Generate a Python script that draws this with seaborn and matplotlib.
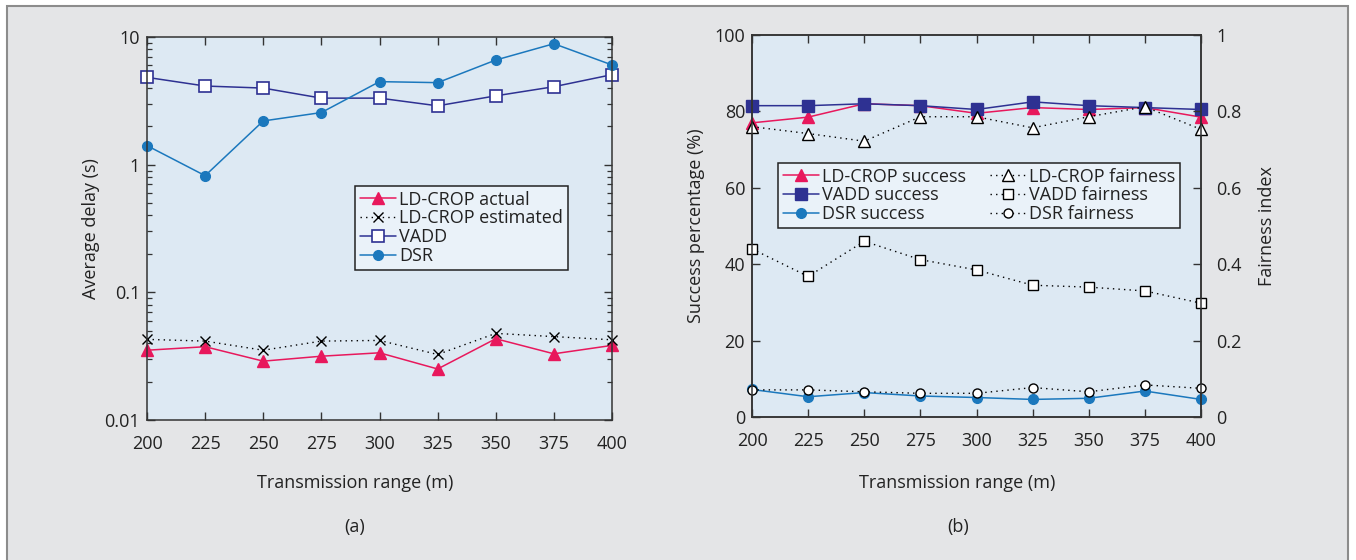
import numpy as np
import matplotlib
matplotlib.use("Agg")
import matplotlib.pyplot as plt
import matplotlib.ticker as mticker
from matplotlib.patches import Rectangle
import seaborn as sns

# ── Data ─────────────────────────────────────────────────────────────
tx_range = [200, 225, 250, 275, 300, 325, 350, 375, 400]

# (a) average delay (s), log scale
delay_ldcrop_actual = [0.0352, 0.0375, 0.0289, 0.0316, 0.0336, 0.0251, 0.0433, 0.0330, 0.0384]
delay_ldcrop_est    = [0.0428, 0.0415, 0.0352, 0.0415, 0.0420, 0.0326, 0.0477, 0.0450, 0.0425]
delay_vadd          = [4.83, 4.13, 3.98, 3.32, 3.32, 2.89, 3.46, 4.08, 5.07]
delay_dsr           = [1.41, 0.82, 2.20, 2.56, 4.47, 4.39, 6.60, 8.86, 6.04]

# (b) success percentage (%) and fairness index
succ_ldcrop = [77.0, 78.5, 82.0, 81.5, 79.5, 81.0, 80.5, 81.0, 78.5]
succ_vadd   = [81.5, 81.5, 82.0, 81.5, 80.5, 82.5, 81.5, 81.0, 80.5]
succ_dsr    = [7.2, 5.3, 6.4, 5.5, 5.1, 4.6, 4.9, 6.8, 4.6]
fair_ldcrop = [0.760, 0.742, 0.722, 0.786, 0.786, 0.757, 0.786, 0.812, 0.753]
fair_vadd   = [0.440, 0.368, 0.460, 0.412, 0.385, 0.345, 0.340, 0.330, 0.298]
fair_dsr    = [0.071, 0.071, 0.066, 0.062, 0.062, 0.077, 0.066, 0.084, 0.075]

# ── Style ────────────────────────────────────────────────────────────
sns.set_theme(style="ticks")
plt.rcParams.update({
    "font.family": ["Open Sans", "DejaVu Sans"],
    "font.size": 13,
    "axes.labelsize": 13,
    "xtick.labelsize": 13,
    "ytick.labelsize": 13,
    "legend.fontsize": 13,
    "axes.edgecolor": "#333333",
    "axes.linewidth": 1.1,
    "text.color": "#222222",
    "axes.labelcolor": "#222222",
    "xtick.color": "#333333",
    "ytick.color": "#333333",
    "xtick.labelcolor": "#222222",
    "ytick.labelcolor": "#222222",
})

RED = "#e8185c"
NAVY = "#2e3192"
BLUE = "#1b78bd"
PANEL_BG = "#dde9f3"
FRAME_BG = "#e4e5e7"
LEGEND_BG = "#eaf2f9"
DOT = (0, (1, 3))

fig = plt.figure(figsize=(13.56, 5.6), dpi=100)
fig.patch.set_facecolor("white")
frame = Rectangle((7 / 1356, -0.02), 1341 / 1356, 1.02 - 6 / 560,
                  transform=fig.transFigure, facecolor=FRAME_BG,
                  edgecolor="#8c8c8c", linewidth=1.5, zorder=-10)
fig.add_artist(frame)

ax1 = fig.add_axes([147 / 1356, 1 - 420 / 560, 465 / 1356, 383 / 560])
ax2 = fig.add_axes([752 / 1356, 1 - 417 / 560, 449 / 1356, 382 / 560])


def series(ax, y, color, marker, ms, ls="-", lw=1.1, mfc=None, mec=None, mew=1.0, label=None):
    sns.lineplot(x=tx_range, y=y, ax=ax, color=color, marker=marker, markersize=ms,
                 linestyle=ls, linewidth=lw,
                 markerfacecolor=mfc if mfc is not None else color,
                 markeredgecolor=mec if mec is not None else color,
                 markeredgewidth=mew, clip_on=False, label=label, legend=False)
    return ax.get_lines()[-1]


def style_axes(ax):
    ax.set_facecolor(PANEL_BG)
    for s in ax.spines.values():
        s.set_visible(True)
    ax.set_xlim(200, 400)
    ax.set_xticks(tx_range)
    ax.tick_params(axis="x", which="both", direction="in", top=True, length=6, width=1, pad=11)
    ax.set_xlabel("Transmission range (m)")
    ax.xaxis.label.set_va("center")


# ── (a) Average delay ────────────────────────────────────────────────
style_axes(ax1)
h_a = [
    series(ax1, delay_ldcrop_actual, RED, "^", 8, label="LD-CROP actual"),
    series(ax1, delay_ldcrop_est, "black", "x", 7, ls=DOT, lw=1.0, label="LD-CROP estimated"),
    series(ax1, delay_vadd, NAVY, "s", 8, mfc="white", mew=1.2, label="VADD"),
    series(ax1, delay_dsr, BLUE, "o", 7, label="DSR"),
]
ax1.set_yscale("log")
ax1.set_ylim(0.01, 10)
ax1.set_yticks([0.01, 0.1, 1, 10])
ax1.set_yticklabels(["0.01", "0.1", "1", "10"])
ax1.yaxis.set_minor_locator(mticker.LogLocator(base=10, subs=np.arange(2, 10)))
ax1.yaxis.set_minor_formatter(mticker.NullFormatter())
ax1.tick_params(axis="y", which="major", direction="in", right=True, length=6, width=1, pad=5)
ax1.tick_params(axis="y", which="minor", direction="in", right=True, length=3.5, width=0.9)
ax1.set_ylabel("Average delay (s)", labelpad=3)
ax1.xaxis.set_label_coords(0.447, -63 / 383)

leg1 = ax1.legend(handles=h_a, loc="upper left", bbox_to_anchor=(208 / 465, 1 - 149 / 383),
                  frameon=True, fancybox=False, framealpha=1, facecolor=LEGEND_BG,
                  edgecolor="#222222", fontsize=13, handlelength=2.0, handletextpad=0.2,
                  labelspacing=0.05, borderpad=0.25, borderaxespad=0)
leg1.get_frame().set_linewidth(1.1)

# ── (b) Success percentage + fairness ────────────────────────────────
style_axes(ax2)
h_s = [
    series(ax2, succ_ldcrop, RED, "^", 8, label="LD-CROP success"),
    series(ax2, succ_vadd, NAVY, "s", 8, label="VADD success"),
    series(ax2, succ_dsr, BLUE, "o", 7, label="DSR success"),
]
ax2.set_ylim(0, 100)
ax2.set_yticks([0, 20, 40, 60, 80, 100])
ax2.tick_params(axis="y", direction="in", length=6, width=1, pad=5)
ax2.set_ylabel("Success percentage (%)", labelpad=7)
ax2.xaxis.set_label_coords(0.457, -66 / 382)

ax3 = ax2.twinx()
ax3.set_xlim(200, 400)
h_f = [
    series(ax3, fair_ldcrop, "black", "^", 8, ls=DOT, lw=1.0, mfc="white", label="LD-CROP fairness"),
    series(ax3, fair_vadd, "black", "s", 7, ls=DOT, lw=1.0, mfc="white", label="VADD fairness"),
    series(ax3, fair_dsr, "black", "o", 6.5, ls=DOT, lw=1.0, mfc="white", label="DSR fairness"),
]
ax3.set_ylim(0, 1)
ax3.set_yticks([0, 0.2, 0.4, 0.6, 0.8, 1.0])
ax3.set_yticklabels(["0", "0.2", "0.4", "0.6", "0.8", "1"])
ax3.tick_params(axis="y", direction="in", length=6, width=1, pad=11)
ax3.set_ylabel("Fairness index", labelpad=12)
for s in ax3.spines.values():
    s.set_visible(True)

leg2 = ax3.legend(handles=h_s + h_f, ncol=2, loc="upper left",
                  bbox_to_anchor=(26 / 449, 1 - 128 / 382),
                  frameon=True, fancybox=False, framealpha=1, facecolor=LEGEND_BG,
                  edgecolor="#222222", fontsize=13, handlelength=2.0, handletextpad=0.2,
                  labelspacing=0.05, borderpad=0.25, borderaxespad=0, columnspacing=1.3)
leg2.get_frame().set_linewidth(1.1)

# panel captions
fig.text(355 / 1356, 1 - 527 / 560, "(a)", ha="center", va="center", fontsize=13)
fig.text(958 / 1356, 1 - 527 / 560, "(b)", ha="center", va="center", fontsize=13)

fig.savefig("out.png", dpi=100, facecolor=fig.get_facecolor())
plt.close(fig)
